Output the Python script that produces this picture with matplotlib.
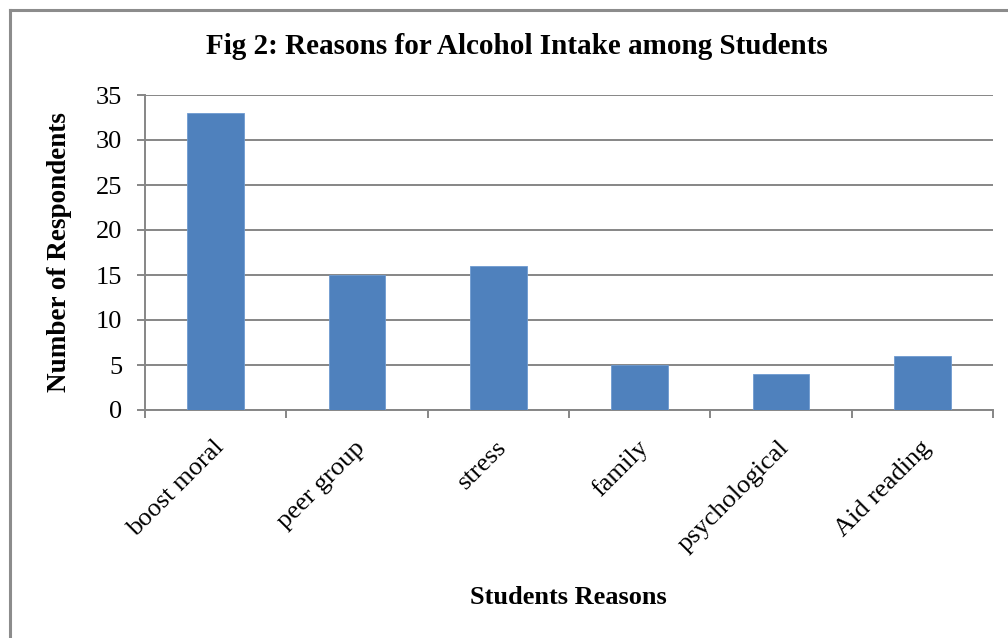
import matplotlib
matplotlib.use("Agg")
import matplotlib.pyplot as plt
from matplotlib.lines import Line2D
import matplotlib.transforms as mtransforms
import numpy as np

categories = ["boost moral", "peer group", "stress", "family", "psychological", "Aid reading"]
values = [33, 15, 16, 5, 4, 6]
yticks = [0, 5, 10, 15, 20, 25, 30, 35]

plt.rcParams['font.family'] = ['Liberation Serif', 'DejaVu Serif']

W, H = 1008, 638
fig = plt.figure(figsize=(W / 100, H / 100), dpi=100)
fig.patch.set_facecolor('white')

# outer chart border (left and top visible)
fig.add_artist(Line2D([9.5 / W, 9.5 / W], [0, 1 - 9.5 / H], transform=fig.transFigure,
                      color='#8c8c8c', lw=2.2))
fig.add_artist(Line2D([9.5 / W, 1], [1 - 9.5 / H, 1 - 9.5 / H], transform=fig.transFigure,
                      color='#8c8c8c', lw=2.2))

left, right, top, bottom = 145 / W, 993 / W, 1 - 95 / H, 1 - 410 / H
ax = fig.add_axes([left, bottom, right - left, top - bottom])

x = np.arange(len(categories))
ax.bar(x, values, width=0.4, color='#4F81BD', edgecolor='#6f9bd0', linewidth=0.6, zorder=3)

ax.set_xlim(-0.5, len(categories) - 0.5)
ax.set_ylim(0, 35)
ax.set_yticks(yticks)
ax.set_yticklabels([str(v) for v in yticks], fontsize=19)
ax.yaxis.grid(True, color='#868686', linewidth=1.4, zorder=0)
ax.set_axisbelow(True)

ax.set_xticks(np.arange(len(categories) + 1) - 0.5)
ax.set_xticklabels([])
ax.set_xticks(x, minor=True)
ax.set_xticklabels(categories, minor=True, rotation=45, ha='right', va='center',
                   rotation_mode='anchor', fontsize=19)
ax.tick_params(axis='x', which='minor', length=0, pad=24)
ax.tick_params(axis='x', which='major', length=5.5, width=1.4, color='#868686', direction='out')
ax.tick_params(axis='y', length=5.5, width=1.4, color='#868686', direction='out', pad=11)

offset = mtransforms.ScaledTranslation(5 / 100, -1 / 100, fig.dpi_scale_trans)
for lbl in ax.get_xticklabels(minor=True):
    lbl.set_transform(lbl.get_transform() + offset)

for s in ['top', 'right']:
    ax.spines[s].set_visible(False)
for s in ['left', 'bottom']:
    ax.spines[s].set_color('#868686')
    ax.spines[s].set_linewidth(1.4)

fig.text(517 / W, 1 - 47 / H, "Fig 2: Reasons for Alcohol Intake among Students",
         ha='center', va='center', fontsize=21, fontweight='bold')
fig.text(60 / W, 1 - 252 / H, "Number of Respondents", rotation=90,
         ha='center', va='center', fontsize=19.5, fontweight='bold')
fig.text(568 / W, 1 - 597 / H, "Students Reasons",
         ha='center', va='center', fontsize=19, fontweight='bold')

fig.savefig("out.png", dpi=100)
